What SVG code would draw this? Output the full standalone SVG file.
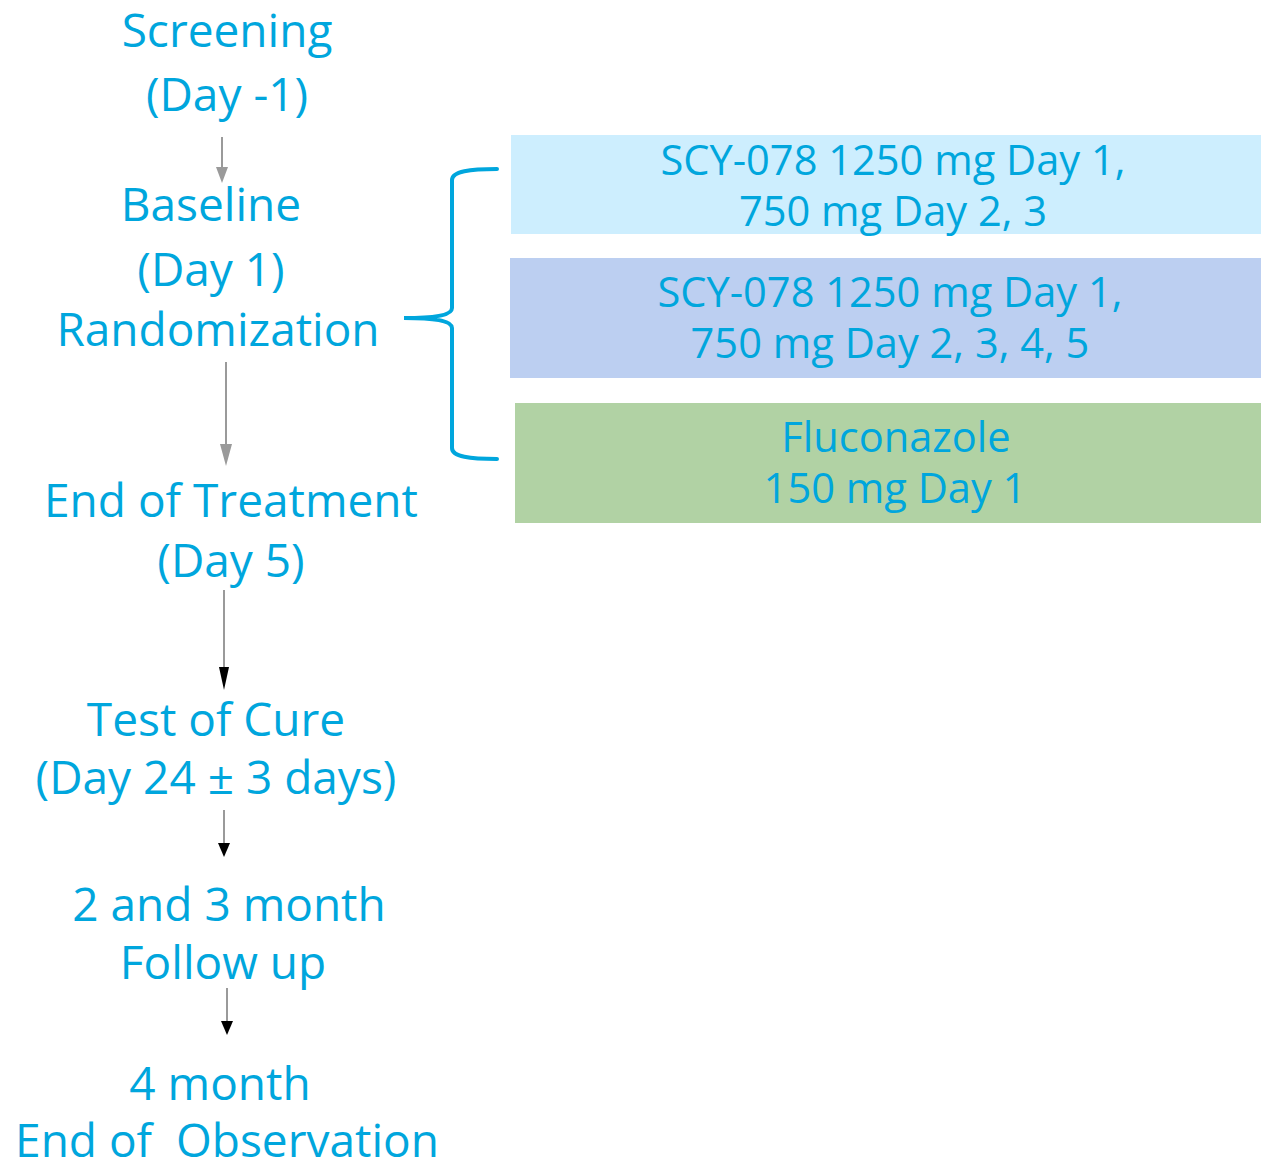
<svg xmlns="http://www.w3.org/2000/svg" width="1261" height="1162" viewBox="0 0 1261 1162">
<style>
text{font-family:"Open Sans","Noto Sans","Liberation Sans",sans-serif;fill:#00a6dd;text-anchor:middle}
.l{font-size:46px}
.r{font-size:41.6px}
.ln{stroke:#9a9a9a;stroke-width:2;fill:none}
</style>
<g id="box1"><rect x="511" y="135" width="750" height="99" fill="#cdeefe"/><text class="r" x="893" y="175">SCY-078 1250 mg Day 1,</text><text class="r" x="893" y="226">750 mg Day 2, 3</text></g>
<g id="box2"><rect x="510" y="258" width="751" height="120" fill="#bccff1"/><text class="r" x="890" y="307">SCY-078 1250 mg Day 1,</text><text class="r" x="890" y="358">750 mg Day 2, 3, 4, 5</text></g>
<g id="box3"><rect x="515" y="403" width="746" height="120" fill="#b1d2a4"/><text class="r" x="896" y="452">Fluconazole</text><text class="r" x="895" y="503">150 mg Day 1</text></g>
<g id="screening"><text class="l" x="227" y="47">Screening</text><text class="l" x="227" y="111">(Day -1)</text></g>
<g id="baseline"><text class="l" x="211" y="221">Baseline</text><text class="l" x="211" y="286">(Day 1)</text><text class="l" x="218" y="346">Randomization</text></g>
<g id="eot"><text class="l" x="231" y="517">End of Treatment</text><text class="l" x="231" y="577">(Day 5)</text></g>
<g id="toc"><text class="l" x="216" y="736">Test of Cure</text><text class="l" x="216" y="794">(Day 24 ± 3 days)</text></g>
<g id="followup"><text class="l" x="229" y="921">2 and 3 month</text><text class="l" x="223" y="979">Follow up</text></g>
<g id="eoo"><text class="l" x="220" y="1100">4 month</text><text class="l" x="227" y="1157" xml:space="preserve">End of  Observation</text></g>
<g id="connectors">
<line class="ln" x1="222" y1="137" x2="222" y2="168"/><path d="M216,167 L228,167 L222,183 Z" fill="#9a9a9a"/>
<line class="ln" x1="226" y1="362" x2="226" y2="446"/><path d="M220,444 L232,444 L226,466 Z" fill="#9a9a9a"/>
<line class="ln" x1="224" y1="590" x2="224" y2="670"/><path d="M219,667 L229,667 L224,690 Z" fill="#000"/>
<line class="ln" x1="224" y1="810" x2="224" y2="845"/><path d="M218,843 L230,843 L224,857 Z" fill="#000"/>
<line class="ln" x1="227" y1="988" x2="227" y2="1023"/><path d="M221,1021 L233,1021 L227,1035 Z" fill="#000"/>
<path d="M497,169 C470,169 452,171 452,180 L452,308 C452,314 440,318 404,318 C440,318 452,322 452,328 L452,448 C452,457 470,459 497,459" fill="none" stroke="#00a6dd" stroke-width="4" stroke-linecap="round"/>
</g>
</svg>
